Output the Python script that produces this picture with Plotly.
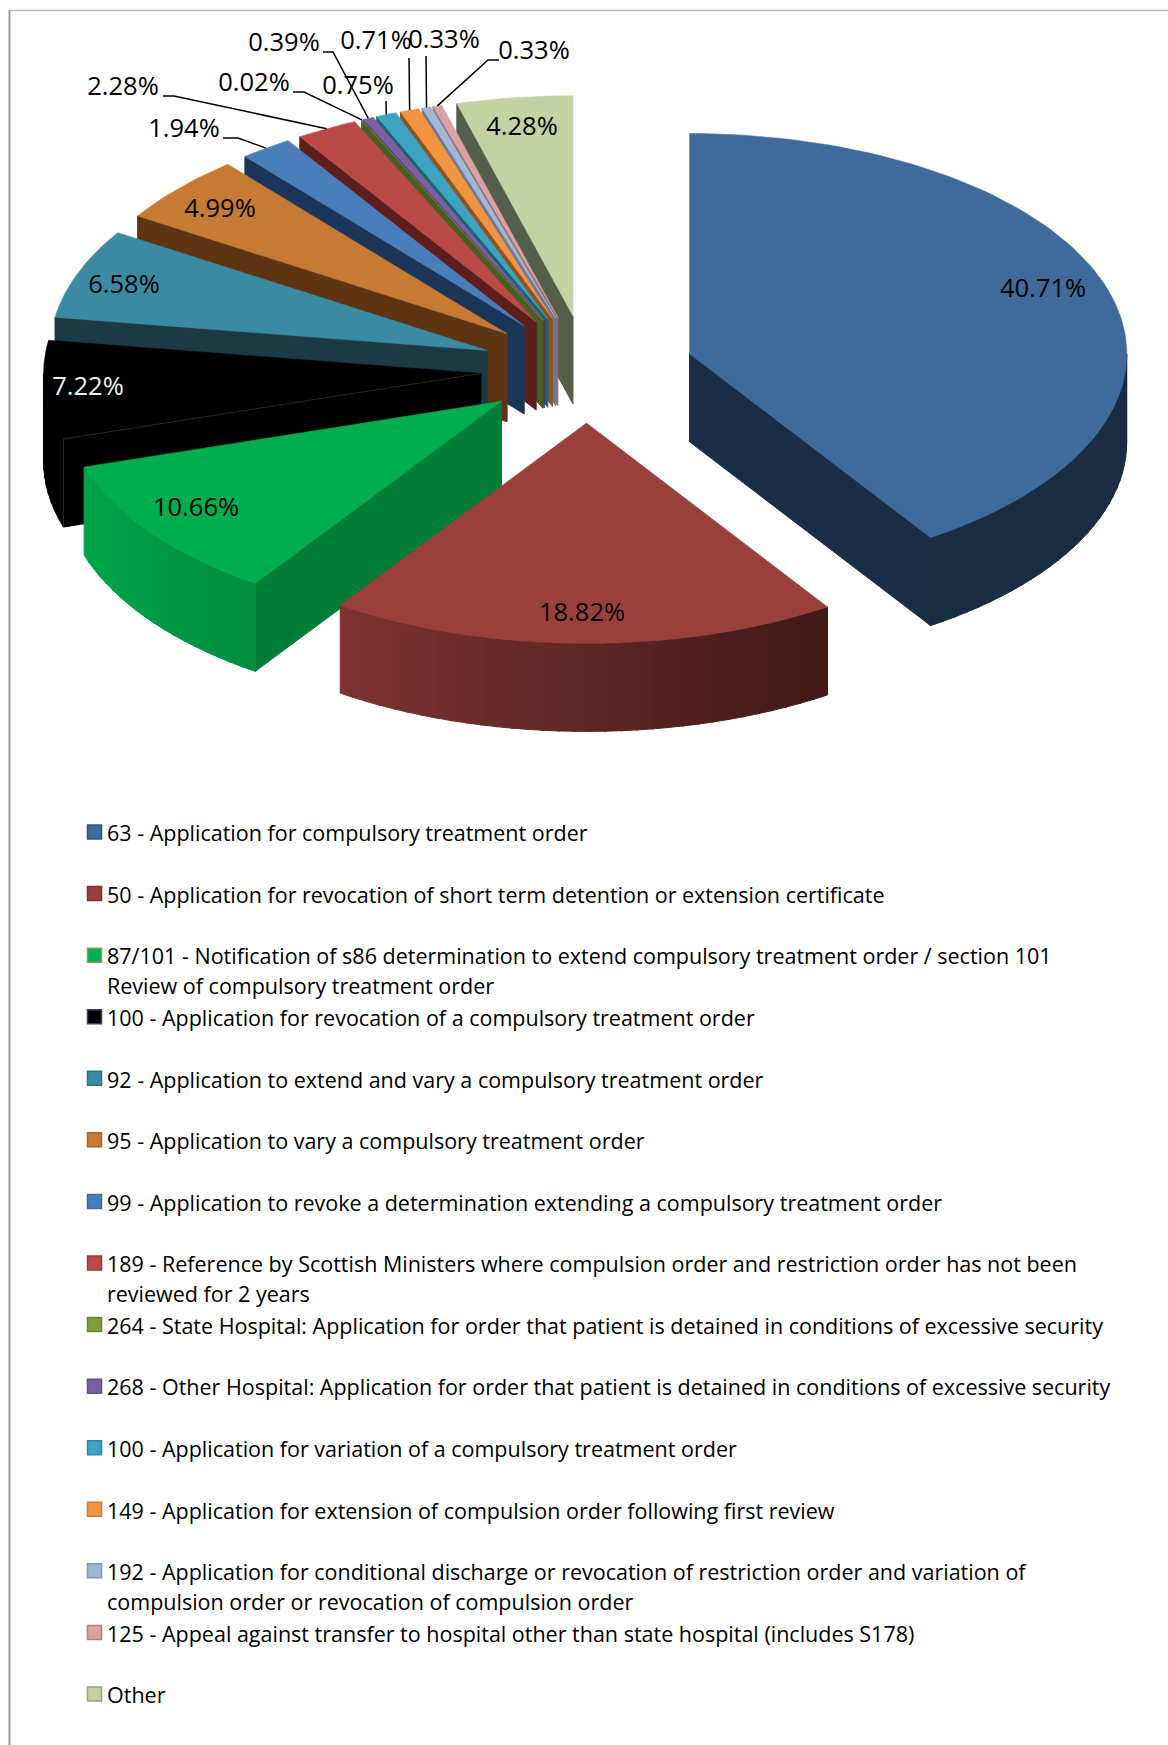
import math
import plotly.graph_objects as go

# ---- data ----
CATEGORIES = ["63", "50", "87/101", "100 (revocation)", "92", "95", "99", "189", "264", "268",
              "100 (variation)", "149", "192", "125", "Other"]
VALUES = [40.71, 18.82, 10.66, 7.22, 6.58, 4.99, 1.94, 2.28, 0.02, 0.39, 0.75, 0.71, 0.33, 0.33, 4.28]

LEGEND_TEXT = [
    ["63 - Application for compulsory treatment order"],
    ["50 - Application for revocation of short term detention or extension certificate"],
    ["87/101 - Notification of s86 determination to extend compulsory treatment order / section 101",
     "Review of compulsory treatment order"],
    ["100 - Application for revocation of a compulsory treatment order"],
    ["92 - Application to extend and vary a compulsory treatment order"],
    ["95 - Application to vary a compulsory treatment order"],
    ["99 - Application to revoke a determination extending a compulsory treatment order"],
    ["189 - Reference by Scottish Ministers where compulsion order and restriction order has not been",
     "reviewed for 2 years"],
    ["264 - State Hospital: Application for order that patient is detained in conditions of excessive security"],
    ["268 - Other Hospital: Application for order that patient is detained in conditions of excessive security"],
    ["100 - Application for variation of a compulsory treatment order"],
    ["149 - Application for extension of compulsion order following first review"],
    ["192 - Application for conditional discharge or revocation of restriction order and variation of",
     "compulsion order or revocation of compulsion order"],
    ["125 - Appeal against transfer to hospital other than state hospital (includes S178)"],
    ["Other"],
]

# ---- styles ----
TOP = ["#3f6a9c", "#9a3f3c", "#00ae4f", "#000000", "#3a8aa3", "#c67a33", "#4a7ebb", "#b94a48",
       "#7f9e3a", "#7c5fa3", "#3ca4c2", "#f29440", "#a4b6d6", "#d9a3a3", "#c2d2a3"]
WALL = ["#1a2d47", "#5a2220", "#007e38", "#000000", "#1c3a44", "#5e3514", "#1b3558", "#5c1d1c",
        "#4a5e25", "#47365e", "#1e5f70", "#8a5524", "#6a7a96", "#8a6e78", "#555e4a"]
SWATCH_EDGE = ["#2f5380", "#7d3230", "#8a9e5c", "#4a3a66", "#2f7188", "#a8662a", "#3d6ba0", "#9c3d3b",
               "#6d8530", "#66508a", "#32899f", "#cc7c34", "#7f93b5", "#ad8080", "#93a878"]
FONT = "Open Sans"
LEGEND_SIZE = 21.5
LABEL_SIZE = 25.5
# percent-label centres, in page pixels
LABEL_X = [1043, 582, 196, 88, 124, 220, 184, 123, 254, 284, 358, 376, 444, 534, 522]
LABEL_Y = [291, 615, 510, 389, 287, 211, 131, 89, 85, 45, 88, 43, 42, 53, 129]
LABEL_COLOR = ["#000000"] * 15
LABEL_COLOR[3] = "#f2f2f2"
# leader-line start and elbow, by slice index
LEADERS = {6: [(223, 138), (238, 138)], 7: [(163, 96), (174, 96)], 8: [(293, 92), (304, 92)],
           9: [(323, 52), (333, 52)], 10: [(386, 101)], 11: [(409, 58)], 12: [(426, 56)],
           13: [(499, 60), (488, 60)]}

# ---- 3-D pie geometry ----
CX, CY, RX, RY, DEPTH, EX, EY = 587.3, 369.3, 437.2, 220.3, 88, 106.8, 53.8
total = sum(VALUES)
angles = [0.0]
for v in VALUES:
    angles.append(angles[-1] + v / total * 360)


def shade(hex_color, k):
    r, g, b = (int(hex_color[i:i + 2], 16) for i in (1, 3, 5))
    return f"rgb({r * k:.0f},{g * k:.0f},{b * k:.0f})"


def poly(fig, pts, color, name=None, edge=1.0):
    xs = [p[0] for p in pts] + [pts[0][0]]
    ys = [p[1] for p in pts] + [pts[0][1]]
    fig.add_trace(go.Scatter(x=xs, y=ys, mode="lines", fill="toself", fillcolor=color,
                             line=dict(width=edge, color=color), hoverinfo="skip" if not name else "name",
                             name=name or "", showlegend=False))


def apex(i):
    mid = math.radians((angles[i] + angles[i + 1]) / 2)
    return CX + EX * math.sin(mid), CY - EY * math.cos(mid)


def rim(ax, ay, deg):
    a = math.radians(deg)
    return ax + RX * math.sin(a), ay - RY * math.cos(a)


fig = go.Figure()
order = list(range(len(VALUES) - 1, 0, -1)) + [0]
for i in order:
    a0, a1 = angles[i], angles[i + 1]
    ax, ay = apex(i)
    # radial walls
    if 180 < a0 < 360:
        x1, y1 = rim(ax, ay, a0)
        poly(fig, [(ax, ay), (x1, y1), (x1, y1 + DEPTH), (ax, ay + DEPTH)], WALL[i])
    if 0 < a1 < 180:
        x1, y1 = rim(ax, ay, a1)
        poly(fig, [(ax, ay), (x1, y1), (x1, y1 + DEPTH), (ax, ay + DEPTH)], WALL[i])
    # outer wall, front-facing part only, shaded along its width
    w0, w1 = max(a0, 90), min(a1, 270)
    if w1 > w0:
        n = max(2, int((w1 - w0) / 2))
        for j in range(n):
            s0 = w0 + (w1 - w0) * j / n
            s1 = min(w0 + (w1 - w0) * (j + 1.15) / n, w1)
            k = max(0.42, 0.6 - 0.36 * math.sin(math.radians((s0 + s1) / 2)))
            p0, p1 = rim(ax, ay, s0), rim(ax, ay, s1)
            poly(fig, [p0, p1, (p1[0], p1[1] + DEPTH), (p0[0], p0[1] + DEPTH)], shade(TOP[i], k))
    # top face
    n = max(2, int((a1 - a0) / 1.5))
    pts = [(ax, ay)] + [rim(ax, ay, a0 + (a1 - a0) * j / n) for j in range(n + 1)]
    poly(fig, pts, TOP[i], CATEGORIES[i], edge=0.5)

# faint edge on the black slice
bx, by = apex(3)
ex_, ey_ = rim(bx, by, angles[3])
fig.add_trace(go.Scatter(x=[bx, ex_, ex_], y=[by, ey_, ey_ + DEPTH], mode="lines",
                         line=dict(color="#2c2632", width=1), hoverinfo="skip", showlegend=False))

# leader lines end at the rim of their slice
for i, start in LEADERS.items():
    ax, ay = apex(i)
    end = rim(ax, ay, (angles[i] + angles[i + 1]) / 2)
    pts = start + [end]
    fig.add_trace(go.Scatter(x=[p[0] for p in pts], y=[p[1] for p in pts], mode="lines",
                             line=dict(color="#000000", width=1.5), hoverinfo="skip", showlegend=False))

# percent labels
fig.add_trace(go.Scatter(x=LABEL_X, y=LABEL_Y, mode="text", text=[f"{v:.2f}%" for v in VALUES],
                         textposition="middle center", hoverinfo="skip", showlegend=False,
                         textfont=dict(family=FONT, size=LABEL_SIZE, color=LABEL_COLOR)))

# legend
ROW0, ROW_STEP, LINE_STEP, SW_X, TEXT_X = 832, 61.57, 29.5, 94.5, 105
rows = [ROW0 + ROW_STEP * i for i in range(len(VALUES))]
fig.add_trace(go.Scatter(x=[SW_X] * len(rows), y=rows, mode="markers", hoverinfo="skip", showlegend=False,
                         marker=dict(symbol="square", size=14, color=TOP,
                                     line=dict(color=SWATCH_EDGE, width=1.5))))
for y, lines in zip(rows, LEGEND_TEXT):
    for j, line in enumerate(lines):
        fig.add_annotation(x=TEXT_X, y=y + j * LINE_STEP + 0.8, text=line, showarrow=False, xanchor="left",
                           yanchor="middle", xref="x", yref="y", align="left",
                           font=dict(family=FONT, size=LEGEND_SIZE, color="#000000"))

fig.update_layout(
    width=1168, height=1745, margin=dict(l=0, r=0, t=0, b=0),
    paper_bgcolor="white", plot_bgcolor="white", showlegend=False,
    xaxis=dict(range=[0, 1168], visible=False, fixedrange=True),
    yaxis=dict(range=[1745, 0], visible=False, fixedrange=True),
    shapes=[
        dict(type="line", xref="x", yref="y", x0=9.5, x1=1168, y0=10.5, y1=10.5, line=dict(color="#b8b8b8", width=1.5)),
        dict(type="line", xref="x", yref="y", x0=9.5, x1=9.5, y0=10, y1=1745, line=dict(color="#9a9a9a", width=2)),
    ],
)
fig.write_html("out.html", config={"displayModeBar": False}, post_script="document.body.style.margin='0';")
